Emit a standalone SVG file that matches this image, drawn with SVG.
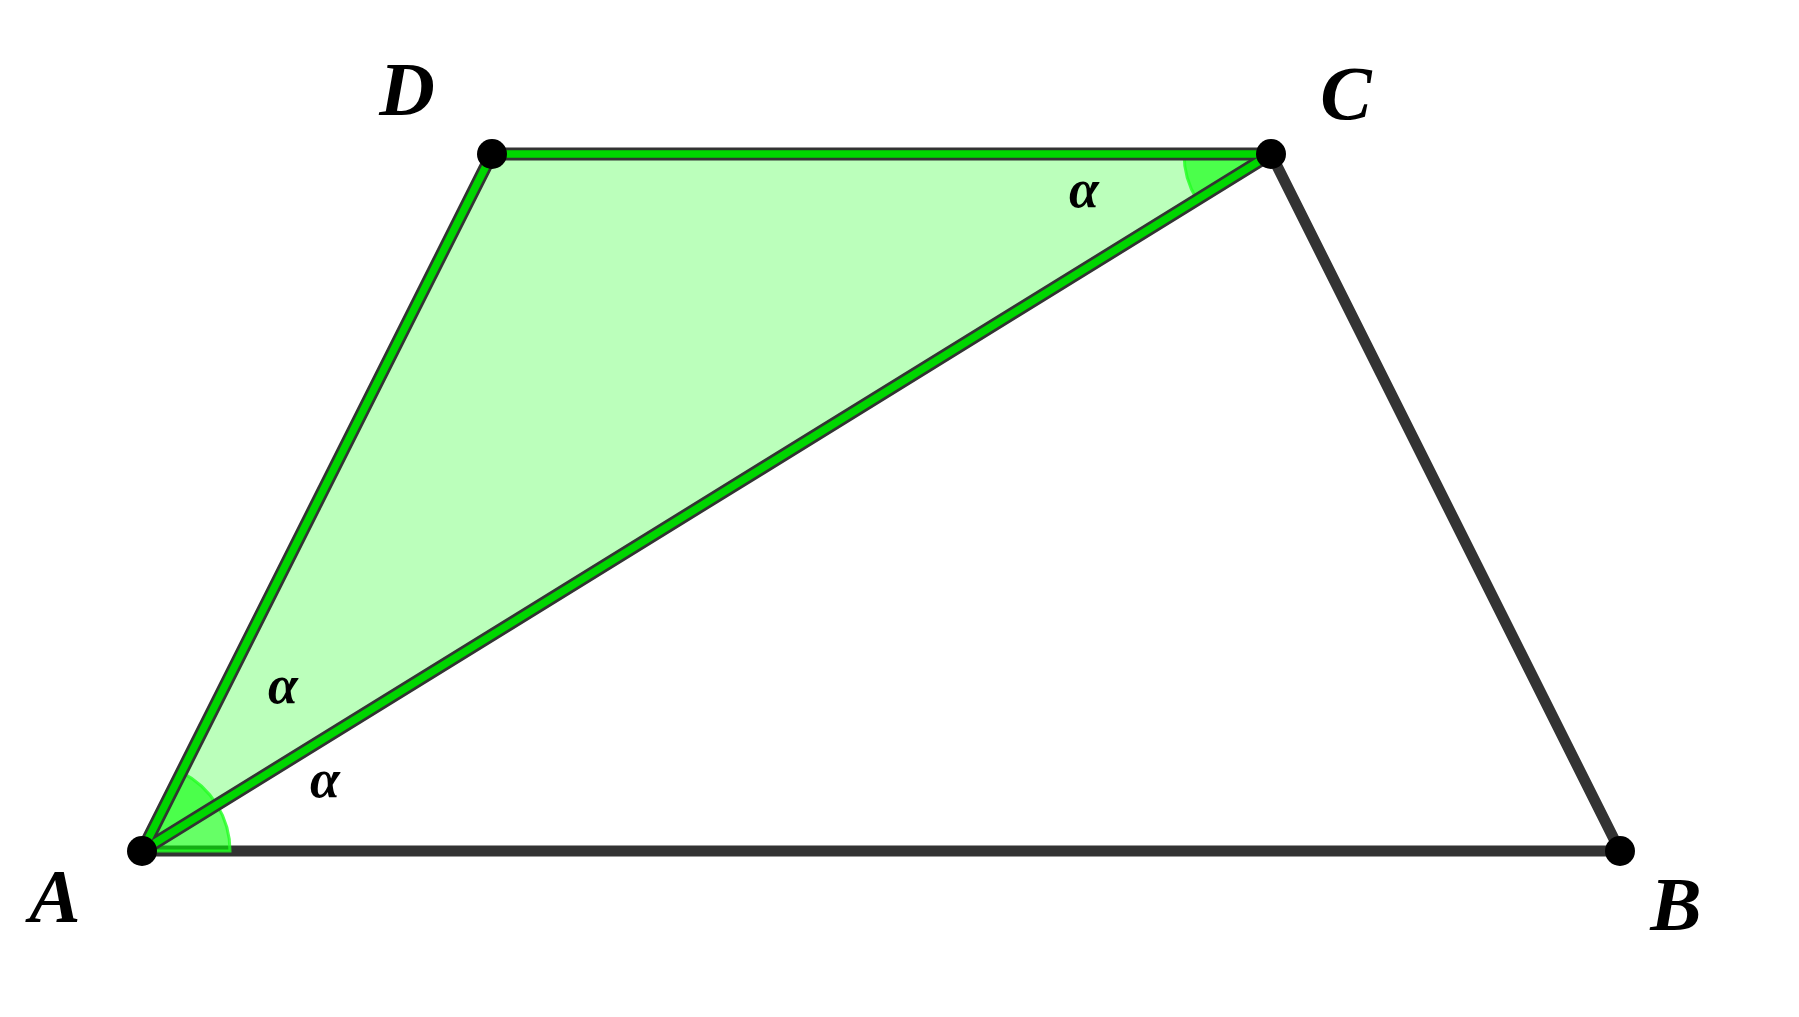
<svg xmlns="http://www.w3.org/2000/svg" width="1799" height="1017" viewBox="0 0 1799 1017">
<style>
.dark{stroke:#333333;stroke-width:11;stroke-linecap:round;fill:none}
.gout{stroke:#333333;stroke-width:13;stroke-linecap:round;fill:none}
.gin{stroke:#00d600;stroke-width:7.5;stroke-linecap:round;fill:none}
.sector{fill:#00ff00;fill-opacity:0.6;stroke:#22ff22;stroke-opacity:0.8;stroke-width:3}
.pt{fill:#000000}
.lbl{font-family:"Liberation Serif",serif;font-style:italic;font-weight:bold;font-size:77px;fill:#000000;text-anchor:middle}
.ang{font-family:"Liberation Serif",serif;font-style:italic;font-weight:bold;font-size:54px;fill:#000000;text-anchor:middle}
</style>
<rect width="1799" height="1017" fill="#ffffff"/>
<polygon id="triangleACD" points="142,851 1271,154 492,154" fill="#bbffbb"/>
<g id="connectors">
<line class="dark" x1="142" y1="851" x2="1620" y2="851"/>
<line class="dark" x1="1620" y1="851" x2="1271" y2="154"/>
<path class="sector" d="M142,851 L230,851 A88,88 0 0 0 181.5,772.4 Z"/>
<path class="sector" d="M1271,154 L1184,154 A87,87 0 0 0 1197,199.7 Z"/>
<line class="gout" x1="142" y1="851" x2="492" y2="154"/>
<line class="gout" x1="492" y1="154" x2="1271" y2="154"/>
<line class="gout" x1="142" y1="851" x2="1271" y2="154"/>
<line class="gin" x1="142" y1="851" x2="492" y2="154"/>
<line class="gin" x1="492" y1="154" x2="1271" y2="154"/>
<line class="gin" x1="142" y1="851" x2="1271" y2="154"/>
</g>
<g id="nodeA"><circle class="pt" cx="142" cy="851" r="15"/><text class="lbl" x="55" y="922">A</text></g>
<g id="nodeB"><circle class="pt" cx="1620" cy="851" r="15"/><text class="lbl" x="1676" y="930">B</text></g>
<g id="nodeC"><circle class="pt" cx="1271" cy="154" r="15"/><text class="lbl" x="1346" y="119">C</text></g>
<g id="nodeD"><circle class="pt" cx="492" cy="154" r="15"/><text class="lbl" x="407" y="115">D</text></g>
<g id="angles">
<text class="ang" x="1084" y="207">α</text>
<text class="ang" x="283" y="703">α</text>
<text class="ang" x="325" y="797">α</text>
</g>
</svg>
